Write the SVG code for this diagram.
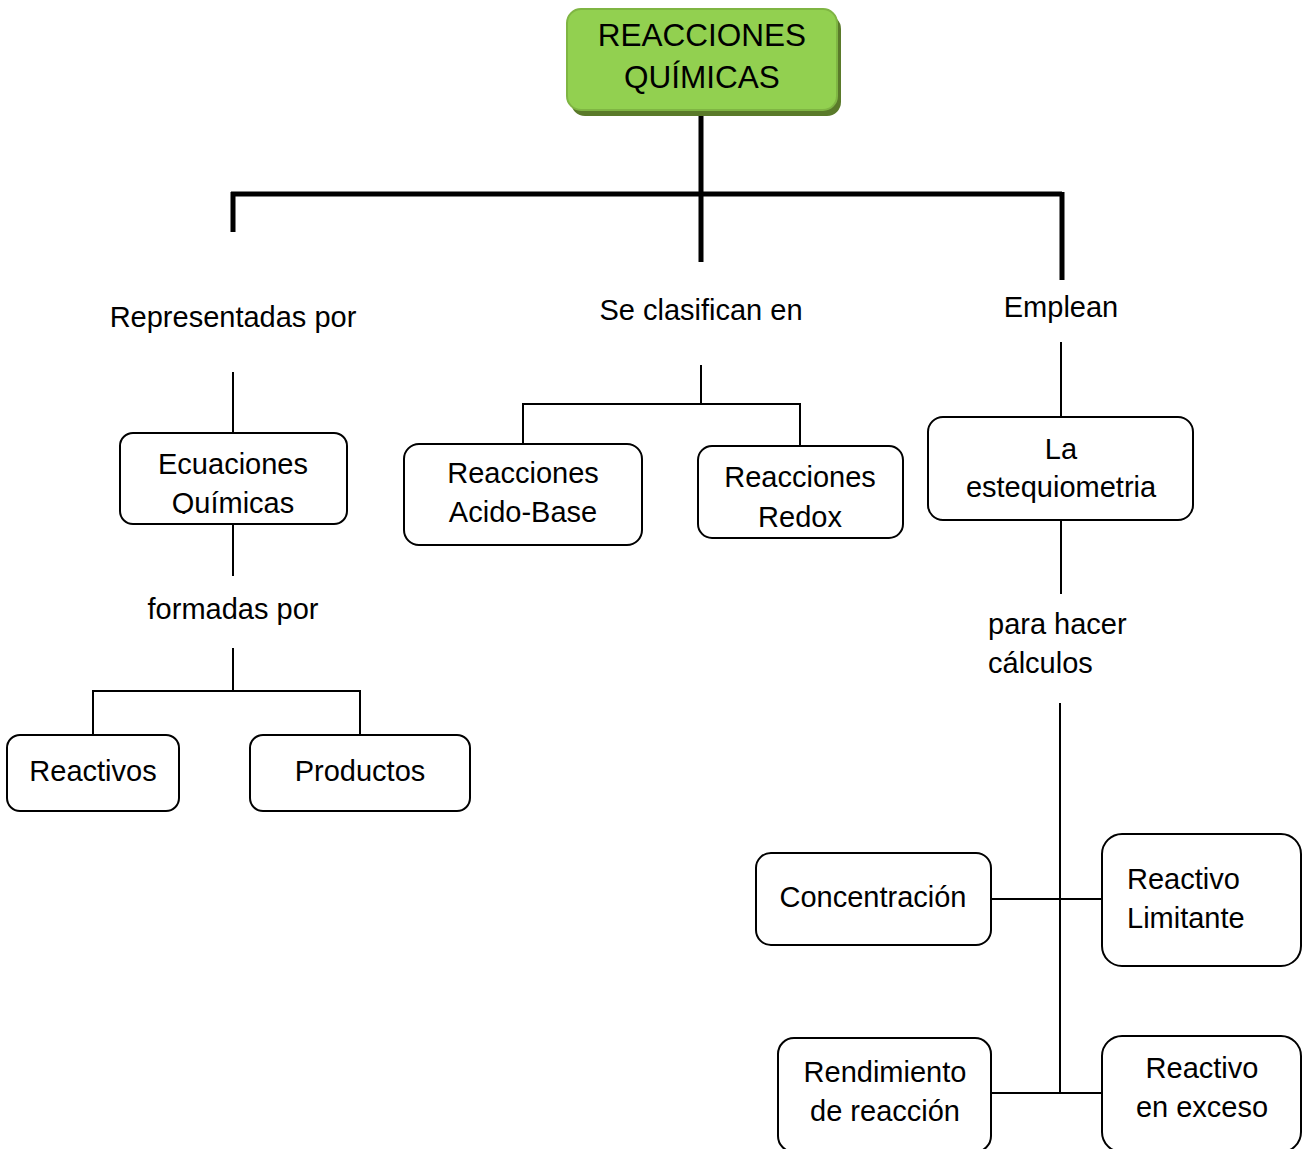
<svg xmlns="http://www.w3.org/2000/svg" width="1311" height="1149" viewBox="0 0 1311 1149">
  <style>
    text { font-family: "Liberation Sans", Arial, sans-serif; font-size: 29px; fill: #000; }
    .c { text-anchor: middle; }
    .box { fill: #fff; stroke: #000; stroke-width: 2; }
    .thick { stroke: #000; stroke-width: 5; fill: none; }
    .thin { stroke: #000; stroke-width: 2; fill: none; }
    .title { font-size: 31.5px; }
  </style>
  <defs>
    <clipPath id="clipEcu"><rect x="120" y="433" width="227" height="81"/></clipPath>
    <clipPath id="clipRedox"><rect x="698" y="446" width="205" height="81"/></clipPath>
  </defs>

  <!-- connectors -->
  <g id="connectors">
    <path class="thick" d="M701 113 V194 M231 194 H1062 M233 192 V232 M701 192 V262 M1062 192 V280"/>
    <path class="thin" d="M233 372 V433 M233 524 V576 M233 648 V691 M93 691 H360 M93 690 V735 M360 690 V735"/>
    <path class="thin" d="M701 365 V404 M523 404 H800 M523 403 V444 M800 403 V446"/>
    <path class="thin" d="M1061 342 V417 M1061 520 V594 M1060 703 V1094 M992 899 H1102 M992 1093 H1102"/>
  </g>

  <!-- root -->
  <g id="node-root">
    <rect x="571" y="15" width="270" height="101" rx="14" fill="#5a7a2a"/>
    <rect x="567" y="9" width="270" height="101" rx="14" fill="#92d050" stroke="#7fb543" stroke-width="2"/>
    <text class="c title" x="702" y="46">REACCIONES</text>
    <text class="c title" x="702" y="88">QUÍMICAS</text>
  </g>

  <!-- link labels -->
  <g id="label-representadas"><text class="c" x="233" y="327">Representadas por</text></g>
  <g id="label-clasifican"><text class="c" x="701" y="320">Se clasifican en</text></g>
  <g id="label-emplean"><text class="c" x="1061" y="317">Emplean</text></g>
  <g id="label-formadas"><text class="c" x="233" y="619">formadas por</text></g>
  <g id="label-calculos">
    <text x="988" y="634">para hacer</text>
    <text x="988" y="673">cálculos</text>
  </g>

  <!-- left branch -->
  <g id="node-ecuaciones">
    <rect class="box" x="120" y="433" width="227" height="91" rx="13"/>
    <g clip-path="url(#clipEcu)">
      <text class="c" x="233" y="474">Ecuaciones</text>
      <text class="c" x="233" y="513">Químicas</text>
    </g>
  </g>
  <g id="node-reactivos">
    <rect class="box" x="7" y="735" width="172" height="76" rx="13"/>
    <text class="c" x="93" y="781">Reactivos</text>
  </g>
  <g id="node-productos">
    <rect class="box" x="250" y="735" width="220" height="76" rx="13"/>
    <text class="c" x="360" y="781">Productos</text>
  </g>

  <!-- middle branch -->
  <g id="node-acido-base">
    <rect class="box" x="404" y="444" width="238" height="101" rx="15"/>
    <text class="c" x="523" y="483">Reacciones</text>
    <text class="c" x="523" y="522">Acido-Base</text>
  </g>
  <g id="node-redox">
    <rect class="box" x="698" y="446" width="205" height="92" rx="14"/>
    <g clip-path="url(#clipRedox)">
      <text class="c" x="800" y="487">Reacciones</text>
      <text class="c" x="800" y="527">Redox</text>
    </g>
  </g>

  <!-- right branch -->
  <g id="node-estequiometria">
    <rect class="box" x="928" y="417" width="265" height="103" rx="15"/>
    <text class="c" x="1061" y="459">La</text>
    <text class="c" x="1061" y="497">estequiometria</text>
  </g>
  <g id="node-concentracion">
    <rect class="box" x="756" y="853" width="235" height="92" rx="15"/>
    <text class="c" x="873" y="907">Concentración</text>
  </g>
  <g id="node-limitante">
    <rect class="box" x="1102" y="834" width="199" height="132" rx="20"/>
    <text x="1127" y="889">Reactivo</text>
    <text x="1127" y="928">Limitante</text>
  </g>
  <g id="node-rendimiento">
    <rect class="box" x="778" y="1038" width="213" height="114" rx="16"/>
    <text class="c" x="885" y="1082">Rendimiento</text>
    <text class="c" x="885" y="1121">de reacción</text>
  </g>
  <g id="node-exceso">
    <rect class="box" x="1102" y="1036" width="199" height="116" rx="20"/>
    <text class="c" x="1202" y="1078">Reactivo</text>
    <text class="c" x="1202" y="1117">en exceso</text>
  </g>
</svg>
